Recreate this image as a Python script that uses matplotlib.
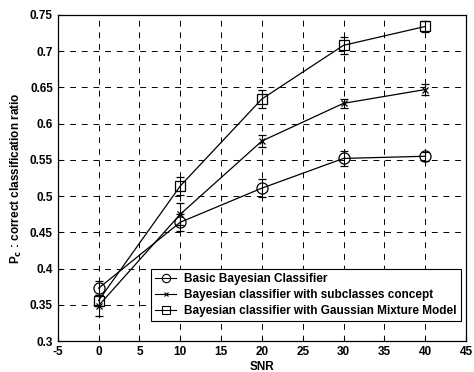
import matplotlib
matplotlib.use("Agg")
import matplotlib.pyplot as plt
from matplotlib.lines import Line2D

plt.rcParams['font.family'] = ['Liberation Sans', 'DejaVu Sans']

snr = [0, 10, 20, 30, 40]
basic = [0.373, 0.464, 0.511, 0.552, 0.555]
basic_err = [0.010, 0.012, 0.012, 0.010, 0.006]
subcls = [0.349, 0.475, 0.576, 0.628, 0.647]
subcls_err = [0.015, 0.015, 0.008, 0.006, 0.008]
gmm = [0.356, 0.514, 0.634, 0.708, 0.734]
gmm_err = [0.008, 0.013, 0.012, 0.012, 0.008]

labels = ["Basic Bayesian Classifier",
          "Bayesian classifier with subclasses concept",
          "Bayesian classifier with Gaussian Mixture Model"]
xticks = [-5, 0, 5, 10, 15, 20, 25, 30, 35, 40, 45]
yticks = [0.3, 0.35, 0.4, 0.45, 0.5, 0.55, 0.6, 0.65, 0.7, 0.75]

fig = plt.figure(figsize=(4.74, 3.72), dpi=100)
ax = fig.add_axes([0.122, 0.083, 0.861, 0.877])

common = dict(color='black', lw=0.9, capsize=3, elinewidth=0.8, capthick=0.8,
              mfc='none', mec='black')
ax.errorbar(snr, basic, yerr=basic_err, marker='o', ms=8, mew=0.9, **common)
ax.errorbar(snr, subcls, yerr=subcls_err, marker='x', ms=4, mew=0.9, **common)
ax.errorbar(snr, gmm, yerr=gmm_err, marker='s', ms=7, mew=0.9, **common)

ax.set_xlim(-5, 45)
ax.set_ylim(0.3, 0.75)
ax.set_xticks(xticks)
ax.set_yticks(yticks)
ax.set_xticklabels([str(t) for t in xticks])
ax.set_yticklabels([f"{t:g}" for t in yticks])
ax.grid(True, color='black', linestyle=(0, (6, 6)), linewidth=0.7)
ax.tick_params(direction='in', length=3, labelsize=8.5)
for lab in ax.get_xticklabels() + ax.get_yticklabels():
    lab.set_fontweight('bold')
for s in ax.spines.values():
    s.set_linewidth(0.9)

ax.set_xlabel("SNR", fontsize=8.5, fontweight='bold', labelpad=2)
ax.set_ylabel("P$_{\\mathbf{c}}$ : correct classification ratio", fontsize=8.5, fontweight='bold', labelpad=4)

handles = [Line2D([], [], color='black', lw=0.8, marker='o', ms=6, mfc='none', mew=0.8),
           Line2D([], [], color='black', lw=0.8, marker='x', ms=3, mfc='none', mew=0.8),
           Line2D([], [], color='black', lw=0.8, marker='s', ms=6, mfc='none', mew=0.8)]
leg = ax.legend(handles, labels, loc='lower right', bbox_to_anchor=(0.988, 0.061),
                borderaxespad=0, fontsize=8.5, fancybox=False, framealpha=1,
                edgecolor='black', borderpad=0.35, labelspacing=0.35, handlelength=1.8,
                handletextpad=0.7)
for t in leg.get_texts():
    t.set_fontweight('bold')
leg.get_frame().set_linewidth(0.8)

fig.savefig("out.png", dpi=100)
